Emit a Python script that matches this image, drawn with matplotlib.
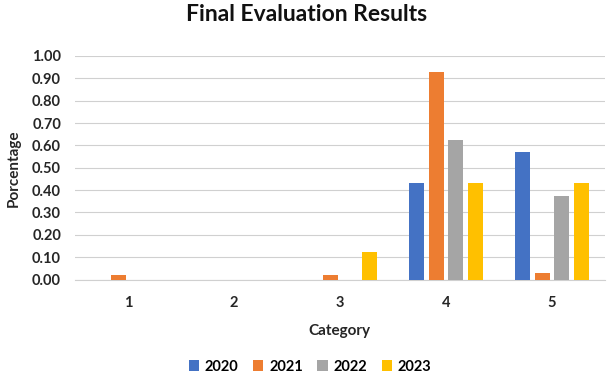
import numpy as np
import matplotlib.pyplot as plt

categories = ["1", "2", "3", "4", "5"]
years = ["2020", "2021", "2022", "2023"]
v2020 = [0.0, 0.0, 0.0, 0.43, 0.57]
v2021 = [0.02, 0.0, 0.02, 0.93, 0.03]
v2022 = [0.0, 0.0, 0.0, 0.625, 0.375]
v2023 = [0.0, 0.0, 0.125, 0.43, 0.43]
colors = ["#4472C4", "#ED7D31", "#A5A5A5", "#FFC000"]

plt.rcParams['font.family'] = ['Lato', 'DejaVu Sans']

fig = plt.figure(figsize=(6.14, 3.83), dpi=100)
ax = fig.add_axes([0.122, 0.27, 0.863, 0.584])

x = np.arange(len(categories))
step = 0.184
width = 0.142
for i, (vals, c, yr) in enumerate(zip([v2020, v2021, v2022, v2023], colors, years)):
    ax.bar(x + (i - 1.5) * step, vals, width, color=c, label=yr, zorder=3)

ax.set_xlim(-0.5, len(categories) - 0.5)
ax.set_ylim(0, 1.0)
ax.set_yticks(np.arange(0, 1.01, 0.1))
ax.set_yticklabels(["%.2f" % t for t in np.arange(0, 1.01, 0.1)], fontsize=10.5, fontweight='bold', color='#262626')
ax.set_xticks(x)
ax.set_xticklabels(categories, fontsize=10.5, fontweight='bold', color='#262626')
ax.tick_params(axis='both', length=0, pad=10)
ax.tick_params(axis='x', pad=12)
ax.grid(axis='y', color='#d0d0d0', linewidth=0.8, zorder=0)
for s in ['top', 'right', 'left']:
    ax.spines[s].set_visible(False)
ax.spines['bottom'].set_color('#d0d0d0')

ax.set_xlabel("Category", fontsize=11, fontweight='bold', color='#262626', labelpad=10)
ax.set_ylabel("Porcentage", fontsize=11, fontweight='bold', color='#262626', labelpad=8)
fig.suptitle("Final Evaluation Results", fontsize=16.5, fontweight='bold', y=0.99, color='#111111')

fig.legend(loc='lower center', ncol=4, frameon=False, prop={'weight': 'bold', 'size': 10.5},
           bbox_to_anchor=(0.505, -0.01), handlelength=0.7, handleheight=0.7, columnspacing=1.0, handletextpad=0.4)

fig.savefig("out.png", dpi=100)
